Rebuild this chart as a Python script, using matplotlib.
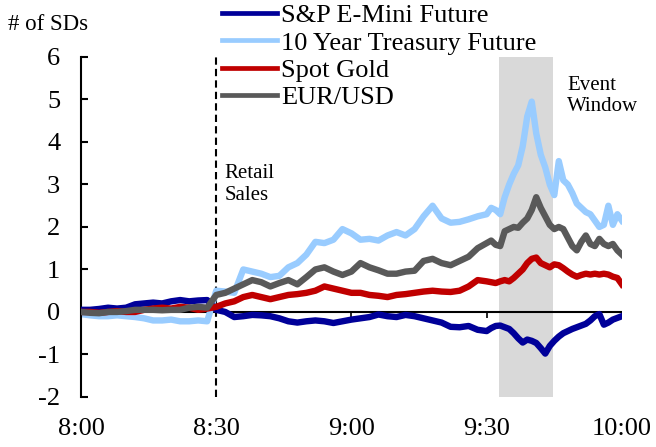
import matplotlib
matplotlib.use("Agg")
import matplotlib.pyplot as plt
import numpy as np

plt.rcParams['font.family'] = ['Liberation Serif', 'DejaVu Serif']
plt.rcParams['axes.unicode_minus'] = False

# minutes after 8:00 (2-min steps to 9:28, then 1-min steps)
minutes = list(range(0, 90, 2)) + list(range(90, 121))

sp_emini = [0.05, 0.05, 0.07, 0.10, 0.08, 0.10, 0.18, 0.20, 0.22, 0.20,
            0.25, 0.28, 0.25, 0.27, 0.28, 0.05, 0.00, -0.12, -0.10, -0.07,
            -0.08, -0.10, -0.15, -0.22, -0.25, -0.22, -0.20, -0.22, -0.26, -0.22,
            -0.18, -0.15, -0.12, -0.06, -0.10, -0.12, -0.07, -0.10, -0.15, -0.20,
            -0.25, -0.35, -0.36, -0.33, -0.42,
            -0.45, -0.38, -0.33, -0.32, -0.36, -0.40, -0.50, -0.62, -0.72, -0.65,
            -0.68, -0.73, -0.85, -0.98, -0.80, -0.68, -0.58, -0.50, -0.45, -0.40,
            -0.36, -0.32, -0.28, -0.20, -0.10, -0.05, -0.30, -0.25, -0.18, -0.14,
            -0.10]

treasury = [-0.05, -0.08, -0.10, -0.10, -0.08, -0.10, -0.12, -0.15, -0.20, -0.20,
            -0.18, -0.22, -0.22, -0.20, -0.22, 0.50, 0.48, 0.45, 1.00, 0.95,
            0.90, 0.82, 0.85, 1.05, 1.15, 1.35, 1.65, 1.62, 1.70, 1.95,
            1.85, 1.70, 1.72, 1.68, 1.80, 1.88, 1.80, 1.95, 2.25, 2.50,
            2.20, 2.10, 2.12, 2.18, 2.25,
            2.30, 2.45, 2.40, 2.30, 2.70, 3.00, 3.25, 3.45, 3.90, 4.60,
            4.95, 4.20, 3.70, 3.40, 3.00, 2.75, 3.55, 3.10, 3.00, 2.80,
            2.55, 2.45, 2.35, 2.30, 2.15, 2.00, 2.05, 2.50, 2.05, 2.30,
            2.15]

gold = [0.00, 0.00, -0.02, 0.00, 0.02, 0.00, 0.00, 0.05, 0.08, 0.10,
        0.08, 0.12, 0.10, 0.05, 0.08, 0.12, 0.20, 0.25, 0.35, 0.40,
        0.35, 0.30, 0.35, 0.40, 0.42, 0.45, 0.50, 0.60, 0.55, 0.50,
        0.45, 0.45, 0.40, 0.38, 0.35, 0.40, 0.42, 0.45, 0.48, 0.50,
        0.48, 0.47, 0.50, 0.60, 0.75,
        0.72, 0.70, 0.68, 0.72, 0.75, 0.72, 0.80, 0.90, 1.00, 1.15,
        1.25, 1.28, 1.15, 1.10, 1.05, 1.12, 1.10, 1.03, 0.95, 0.88,
        0.83, 0.87, 0.90, 0.88, 0.90, 0.88, 0.90, 0.88, 0.83, 0.80,
        0.65]

eurusd = [0.00, -0.02, -0.03, 0.00, 0.00, 0.02, 0.05, 0.05, 0.05, 0.04,
          0.05, 0.05, 0.10, 0.12, 0.10, 0.40, 0.45, 0.55, 0.65, 0.75,
          0.70, 0.60, 0.68, 0.75, 0.65, 0.82, 1.00, 1.05, 0.95, 0.87,
          0.95, 1.15, 1.05, 0.98, 0.90, 0.90, 0.95, 0.97, 1.20, 1.25,
          1.15, 1.10, 1.20, 1.30, 1.50,
          1.62, 1.68, 1.58, 1.55, 1.90, 1.95, 2.00, 1.98, 2.10, 2.20,
          2.40, 2.70, 2.45, 2.25, 2.05, 1.95, 2.00, 1.95, 1.75, 1.55,
          1.45, 1.65, 1.80, 1.60, 1.55, 1.72, 1.60, 1.55, 1.60, 1.45,
          1.35]

tick_pos = [0, 30, 60, 90, 120]
tick_labels = ['8:00', '8:30', '9:00', '9:30', '10:00']
event_window = (92.7, 104.7)
release_time = 30

fig = plt.figure(figsize=(6.56, 4.47), dpi=100)
ax = fig.add_axes([0.1235, 0.112, 0.8245, 0.7605])

ax.axvspan(*event_window, color='#d9d9d9', lw=0, zorder=0)
ax.axvline(release_time, color='black', lw=1.5, linestyle=(0, (3.5, 2)), zorder=1)
ax.axhline(0, color='black', lw=1.5, zorder=1)
ax.vlines([60, 90, 120], 0, -0.15, color='black', lw=1.2, zorder=1)

lw = 4.6
ax.plot(minutes, treasury, color='#99ccff', lw=lw, solid_joinstyle='round', zorder=2,
        label='10 Year Treasury Future')
ax.plot(minutes, sp_emini, color='#000099', lw=lw, solid_joinstyle='round', zorder=3,
        label='S&P E-Mini Future')
ax.plot(minutes, gold, color='#c00000', lw=lw, solid_joinstyle='round', zorder=3,
        label='Spot Gold')
ax.plot(minutes, eurusd, color='#595959', lw=lw, solid_joinstyle='round', zorder=4,
        label='EUR/USD')

ax.set_xlim(0, 120)
ax.set_ylim(-2, 6)
ax.set_yticks(range(-2, 7))
ax.set_xticks(tick_pos)
ax.set_xticklabels(tick_labels)
for s in ['top', 'right', 'bottom']:
    ax.spines[s].set_visible(False)
ax.spines['left'].set_linewidth(1.5)
ax.tick_params(axis='y', direction='in', length=5, width=1.5, labelsize=19, pad=15)
ax.tick_params(axis='x', length=0, labelsize=19, pad=15)

ax.text(31.8, 3.0, 'Retail\nSales', fontsize=15, ha='left', va='center', linespacing=1.2)
ax.text(107.8, 5.08, 'Event\nWindow', fontsize=15, ha='left', va='center', linespacing=1.2)
fig.text(0.012, 0.945, '# of SDs', fontsize=16.5, ha='left', va='center')

handles, labels = ax.get_legend_handles_labels()
order = [1, 0, 2, 3]
leg = fig.legend([handles[i] for i in order], [labels[i] for i in order],
                 loc='upper left', bbox_to_anchor=(0.336, 0.994), frameon=False,
                 fontsize=19, handlelength=2.1, handletextpad=0.15, labelspacing=0.14,
                 borderpad=0.05, borderaxespad=0)
for line in leg.get_lines():
    line.set_linewidth(3.4)

fig.savefig('out.png', dpi=100)
